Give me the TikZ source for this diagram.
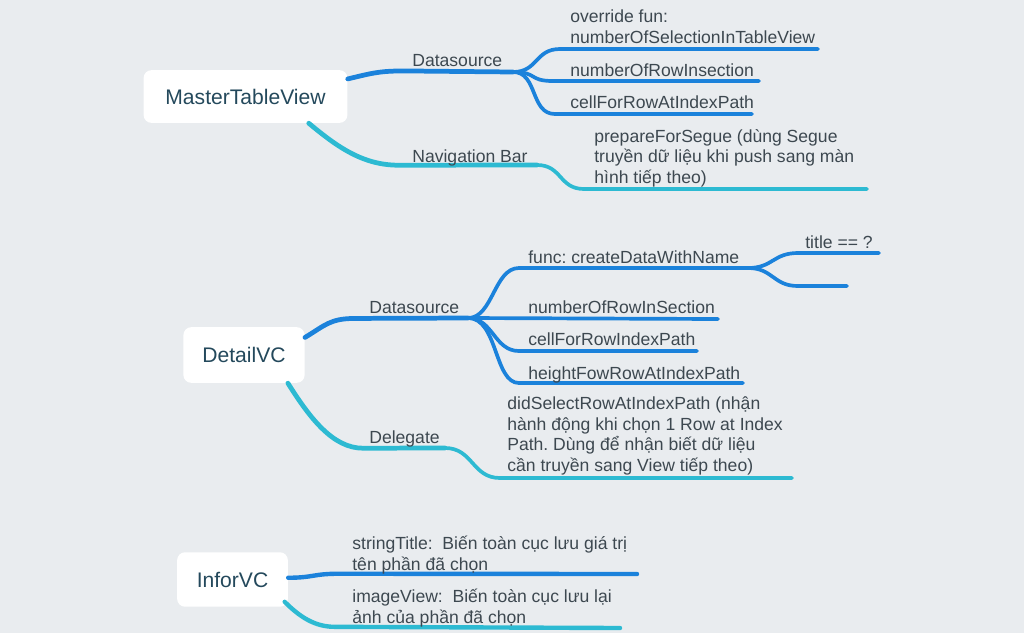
\documentclass[tikz,border=0pt]{standalone}
\usepackage{fontspec}
\setmainfont{Liberation Sans}
\usetikzlibrary{positioning}
\definecolor{bgc}{HTML}{E9ECEF}
\definecolor{blau}{HTML}{1B82DB}
\definecolor{tuerkis}{HTML}{2DBAD2}
\definecolor{txtc}{HTML}{3D4850}
\definecolor{rootc}{HTML}{24495C}
\frenchspacing
\begin{document}
\begin{tikzpicture}[x=0.02cm, y=-0.02cm,
      root/.style={rectangle, rounded corners=4.5pt, fill=white, text=rootc, font=\fontsize{12}{14}\selectfont},
      lbl/.style={inner sep=0pt, anchor=base west, text=txtc, font=\fontsize{10}{11.6}\selectfont},
      txt/.style={lbl, align=left},
      ast/.style={draw=blau, line width=2.1pt, line cap=round},
      zweig/.style={draw=tuerkis, line width=2.1pt, line cap=round}]

\fill[bgc] (0,0) rectangle (1024,633);
\useasboundingbox (0,0) rectangle (1024,633);

% MasterTableView
\node[root, minimum width=116pt, minimum height=30pt] (m) at (245.5,96.5) {MasterTableView};
\coordinate (m1) at (513,72);
\coordinate (m11) at (818,49);
\coordinate (m12) at (759,81);
\coordinate (m13) at (752,114);
\coordinate (m2) at (537,165);
\coordinate (m21) at (867,189);
\draw[ast, line width=2.7pt] ([yshift=10pt]m.east) .. controls +(25,-6) and +(-25,0) .. ++(57,-8) -- (m1);
\draw[ast] (m1) .. controls +(25,0) and +(-25,0) .. ++(47,-23) -- (m11);
\draw[ast] (m1) .. controls +(25,0) and +(-25,0) .. ++(40,9) -- (m12);
\draw[ast] (m1) .. controls +(25,0) and +(-25,0) .. ++(42,42) -- (m13);
\draw[zweig, line width=2.7pt] ([xshift=36pt]m.south) .. controls +(30,25) and +(-35,0) .. ++(90,42) -- (m2);
\draw[zweig] (m2) .. controls +(25,0) and +(-25,0) .. ++(47,24) -- (m21);
\node[lbl] (m1t) at (412,66) {Datasource};
\node[lbl] (m2t) at (412,162) {Navigation Bar};
\node[txt] (m11t) at (570,43) {override fun:\\numberOfSelectionInTableView};
\node[lbl] (m12t) at (570,76) {numberOfRowInsection};
\node[lbl] (m13t) at (570,108) {cellForRowAtIndexPath};
\node[txt] (m21t) at (594,183) {prepareForSegue (dùng Segue\\truyền dữ liệu khi push sang màn\\hình tiếp theo)};

% DetailVC
\node[root, minimum width=69pt, minimum height=31.7pt] (d) at (244,355) {DetailVC};
\coordinate (d1) at (468,318);
\coordinate (d11) at (748,268);
\coordinate (d111) at (879,253);
\coordinate (d112) at (847,286);
\coordinate (d12) at (718,319);
\coordinate (d13) at (697,351);
\coordinate (d14) at (743,383);
\coordinate (d2) at (445,448);
\coordinate (d21) at (792,478);
\draw[ast, line width=2.7pt] ([yshift=10pt]d.east) .. controls +(20,-12) and +(-25,0) .. ++(50,-19) -- (d1);
\draw[ast] (d1) .. controls +(25,0) and +(-25,0) .. ++(51,-50) -- (d11);
\draw[ast] (d11) .. controls +(25,0) and +(-25,0) .. ++(50,-15) -- (d111);
\draw[ast] (d11) .. controls +(25,0) and +(-25,0) .. ++(50,18) -- (d112);
\draw[ast] (d1) -- (d12);
\draw[ast] (d1) .. controls +(25,0) and +(-25,0) .. ++(51,33) -- (d13);
\draw[ast] (d1) .. controls +(30,0) and +(-25,0) .. ++(51,65) -- (d14);
\draw[zweig, line width=2.7pt] ([xshift=25pt]d.south) .. controls +(22,35) and +(-30,0) .. ++(75,65) -- (d2);
\draw[zweig] (d2) .. controls +(28,0) and +(-28,0) .. ++(55,30) -- (d21);
\node[lbl] (d1t) at (369,313) {Datasource};
\node[lbl] (d2t) at (369,443) {Delegate};
\node[lbl] (d11t) at (528,263) {func: createDataWithName};
\node[lbl] (d111t) at (805,248) {title == ?};
\node[lbl] (d12t) at (528,313) {numberOfRowInSection};
\node[lbl] (d13t) at (528,345.5) {cellForRowIndexPath};
\node[lbl] (d14t) at (528,379) {heightFowRowAtIndexPath};
\node[txt] (d21t) at (507,471) {didSelectRowAtIndexPath (nhận\\hành động khi chọn 1 Row at Index\\Path. Dùng để nhận biết dữ liệu\\cần truyền sang View tiếp theo)};

% InforVC
\node[root, minimum width=63pt, minimum height=31pt] (i) at (232.5,579.5) {InforVC};
\coordinate (i1) at (637,574);
\coordinate (i2) at (620,628);
\draw[ast, line width=2.5pt] ([yshift=1pt]i.east) .. controls +(25,0) and +(-25,0) .. ++(50,-4) -- (i1);
\draw[zweig, line width=2.5pt] ([shift={(-2pt,3pt)}]i.south east) .. controls +(15,15) and +(-20,0) .. ++(50,25) -- (i2);
\node[txt] (i1t) at (352,570) {stringTitle:\ \ Biến toàn cục lưu giá trị\\tên phần đã chọn};
\node[txt] (i2t) at (352,623) {imageView:\ \ Biến toàn cục lưu lại\\ảnh của phần đã chọn};

\end{tikzpicture}
\end{document}
